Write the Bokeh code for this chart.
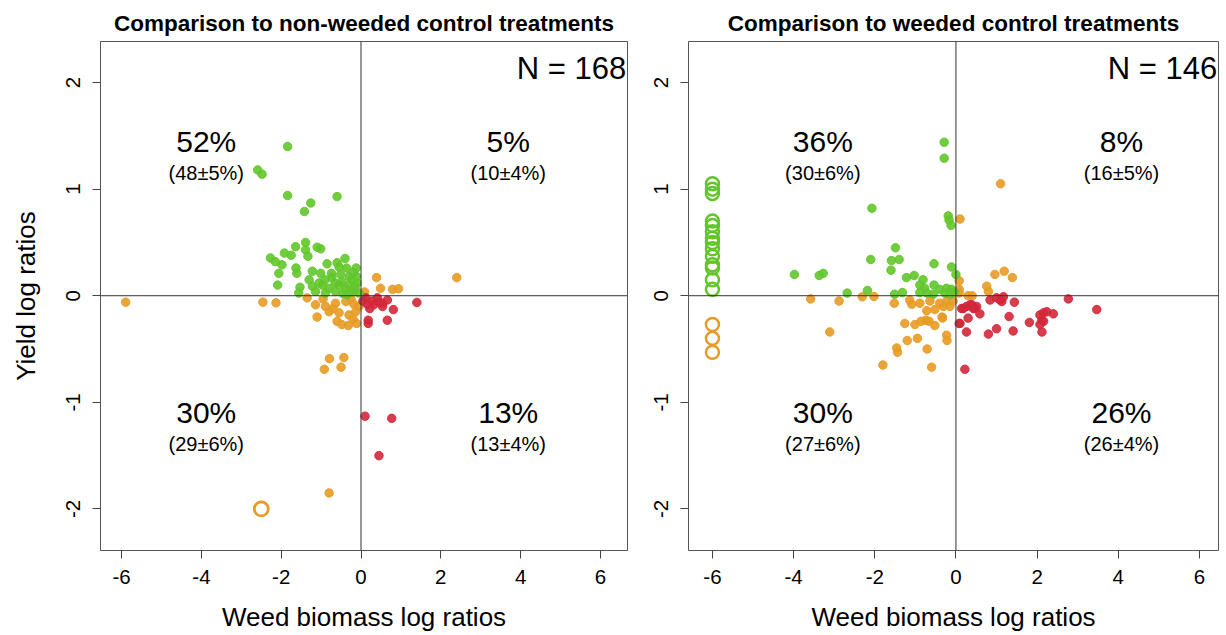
from bokeh.plotting import figure
from bokeh.layouts import row
from bokeh.models import FixedTicker, Span
from bokeh.embed import file_html
from bokeh.resources import INLINE

# ---------------- data: left panel (non-weeded controls) ----------------
L_green_x = [-1.84, -2.59, -2.48, -1.84, -0.60, -1.26, -1.42, -1.39, -1.39, -1.64, -1.10, -1.01,
             -1.92, -1.75, -2.27, -2.15, -1.98, -1.33, -1.63, -1.61, -2.06, -2.09, -1.22, -1.01,
             -0.60, -0.36, -0.12, -0.74, -0.51, -0.30, -0.11, -1.53, -1.56, -1.22, -0.97, -0.80,
             -0.55, -0.30, -0.09, -1.14, -0.89, -0.64, -0.38, -0.18, -0.05, -0.73, -0.48, -0.23,
             -0.90, -0.40, -0.25, -0.65, -0.45, -1.05, -0.15, -0.55, -0.20, -0.85, -1.30, -0.35]
L_green_y = [1.40, 1.18, 1.14, 0.94, 0.93, 0.87, 0.79, 0.50, 0.43, 0.46, 0.455, 0.44,
             0.40, 0.38, 0.355, 0.32, 0.29, 0.37, 0.26, 0.21, 0.21, 0.10, 0.23, 0.21,
             0.31, 0.26, 0.26, 0.21, 0.20, 0.18, 0.18, 0.08, 0.025, 0.09, 0.10, 0.07,
             0.10, 0.10, 0.12, 0.04, 0.025, 0.04, 0.06, 0.04, 0.025, 0.17, 0.13, 0.15,
             0.15, 0.35, 0.05, 0.12, 0.02, 0.12, 0.08, 0.27, 0.22, 0.30, 0.15, 0.01]
L_orange_x = [-5.90, -2.46, -2.13, 0.39, 0.49, 0.79, 0.94, 0.09, 2.40, -1.35, -1.14, -0.89,
              -0.64, -0.38, -0.18, -1.10, -0.80, -0.55, -0.30, -0.13, -0.60, -0.48, -0.32, -0.11,
              -0.79, -0.43, -0.92, -0.50, -0.80, -0.95, -0.25, -0.70, -0.05, -0.20]
L_orange_y = [-0.06, -0.06, -0.066, 0.17, 0.07, 0.06, 0.066, 0.035, 0.17, -0.02, -0.085, -0.10,
              -0.07, -0.054, -0.08, -0.20, -0.15, -0.16, -0.18, -0.15, -0.24, -0.27, -0.28, -0.26,
              -0.59, -0.58, -0.69, -0.67, -1.85, -0.03, -0.03, -0.12, -0.10, -0.22]
L_red_x = [0.12, 0.28, 0.41, 0.54, 0.66, 0.16, 0.32, 1.40, 0.81, 0.18, 0.18, 0.66, 0.54,
           0.10, 0.77, 0.45, 0.05, 0.22, 0.45]
L_red_y = [-0.02, -0.05, -0.02, -0.07, -0.04, -0.08, -0.085, -0.063, -0.13, -0.23, -0.26, -0.23, -0.10,
           -1.13, -1.15, -1.50, -0.05, -0.12, -0.06]
L_open_orange_x = [-2.5]
L_open_orange_y = [-2.0]

# ---------------- data: right panel (weeded controls) ----------------
R_green_x = [-0.29, -0.29, -2.07, -0.19, -0.17, -0.12, -1.49, -2.10, -1.59, -1.40, -1.60, -0.54,
             -0.11, 0.0, -3.98, -3.37, -3.27, -1.22, -1.03, -0.81, -0.89, -0.77, -0.54, -0.40,
             -0.23, -0.11, -2.68, -2.18, -1.51, -1.32, -0.89, -0.72, -0.56, -0.27, -0.15, -0.04]
R_green_y = [1.44, 1.29, 0.82, 0.75, 0.71, 0.66, 0.45, 0.34, 0.33, 0.34, 0.24, 0.30,
             0.27, 0.20, 0.20, 0.19, 0.21, 0.17, 0.19, 0.15, 0.10, 0.07, 0.10, 0.06,
             0.07, 0.06, 0.025, 0.05, 0.015, 0.03, 0.03, 0.025, 0.015, 0.025, 0.015, 0.035]
R_open_green_x = [-6.0] * 14
R_open_green_y = [1.05, 1.00, 0.96, 0.70, 0.66, 0.60, 0.54, 0.50, 0.44, 0.37, 0.29, 0.26, 0.15, 0.06]
R_open_orange_x = [-6.0, -6.0, -6.0]
R_open_orange_y = [-0.27, -0.40, -0.53]
R_orange_x = [1.10, 0.10, 0.96, 1.19, 1.39, 0.08, 0.76, 0.80, 0.08, 0.08, 0.30, 0.40,
              -3.58, -2.88, -2.31, -2.02, -3.11, -1.52, -1.14, -1.09, -0.89, -0.64, -0.40, -0.23,
              -0.07, -0.72, -0.52, -0.31, -0.15, -1.26, -1.01, -0.86, -0.74, -0.66, -0.52, -0.34,
              -0.95, -1.20, -1.46, -1.44, -0.71, -0.23, -0.22, -1.80, -0.60, -0.33]
R_orange_y = [1.05, 0.72, 0.20, 0.23, 0.17, 0.14, 0.09, 0.04, 0.06, 0.025, 0.0, 0.0,
              -0.03, -0.05, -0.01, -0.007, -0.34, -0.07, -0.04, -0.08, -0.07, -0.05, -0.07, -0.05,
              -0.05, -0.14, -0.13, -0.10, -0.10, -0.26, -0.27, -0.24, -0.23, -0.24, -0.28, -0.20,
              -0.40, -0.42, -0.49, -0.53, -0.50, -0.37, -0.42, -0.65, -0.67, -0.21]
R_red_x = [0.14, 0.26, 0.39, 0.47, 0.59, 0.30, 0.10, 0.26, 0.80, 1.00, 1.31, 1.41, 1.44, 1.13,
           0.84, 1.00, 1.81, 2.07, 2.16, 2.12, 2.24, 2.40, 0.22, 2.77, 3.47, 2.12, 2.07, 0.08,
           0.35, 0.43, 0.18, 1.09, 1.17, 0.51, 2.16]
R_red_y = [-0.12, -0.10, -0.085, -0.12, -0.17, -0.21, -0.26, -0.34, -0.36, -0.31, -0.195, -0.33, -0.06, -0.054,
           -0.04, -0.02, -0.25, -0.18, -0.24, -0.34, -0.15, -0.17, -0.69, -0.03, -0.13, -0.23, -0.27, -0.26,
           -0.085, -0.12, -0.12, -0.04, -0.01, -0.10, -0.16]

# ---------------- annotation texts ----------------
titles = ["Comparison to non-weeded control treatments", "Comparison to weeded control treatments"]
n_texts = ["N = 168", "N = 146"]
L_pct_big = ["52%", "5%", "30%", "13%"]
L_pct_small = ["(48\u00b15%)", "(10\u00b14%)", "(29\u00b16%)", "(13\u00b14%)"]
R_pct_big = ["36%", "8%", "30%", "26%"]
R_pct_small = ["(30\u00b16%)", "(16\u00b15%)", "(27\u00b16%)", "(26\u00b14%)"]
L_pct_x = [-3.88, 3.69, -3.88, 3.69]
R_pct_x = [-3.28, 4.08, -3.28, 4.08]
pct_big_y = [1.45, 1.45, -1.10, -1.10]
pct_small_y = [1.15, 1.15, -1.39, -1.39]
x_ticks = [-6, -4, -2, 0, 2, 4, 6]
y_ticks = [-2, -1, 0, 1, 2]

GREEN = "#62C62A"
ORANGE = "#E89B25"
RED = "#D3283A"
FONT = "Liberation Sans"


def make_panel(title, width, xr, border_left, border_right, show_ylabel):
    p = figure(width=width, height=634, x_range=xr, y_range=(-2.39, 2.385),
               output_backend="svg", toolbar_location=None,
               min_border_left=border_left, min_border_right=border_right,
               min_border_top=41, min_border_bottom=84)
    p.title.text = title
    p.title.text_font = FONT
    p.title.text_font_style = "bold"
    p.title.text_font_size = "22.5px"
    p.title.text_color = "black"
    p.title.align = "center"
    p.title.standoff = 12
    p.grid.visible = False
    p.outline_line_color = "#555555"
    p.outline_line_width = 1
    p.background_fill_color = "white"
    p.border_fill_color = "white"
    for ax, ticks in ((p.xaxis[0], x_ticks), (p.yaxis[0], y_ticks)):
        ax.ticker = FixedTicker(ticks=ticks)
        ax.major_label_overrides = {t: str(t) for t in ticks}
        ax.axis_line_color = None
        ax.major_tick_line_color = "#444444"
        ax.major_tick_out = 8
        ax.major_tick_in = 0
        ax.minor_tick_line_color = None
        ax.major_label_text_font = FONT
        ax.major_label_text_font_size = "20.5px"
        ax.major_label_text_color = "black"
        ax.axis_label_text_font = FONT
        ax.axis_label_text_font_size = "26px"
        ax.axis_label_text_font_style = "normal"
        ax.axis_label_text_color = "black"
    p.xaxis.major_label_standoff = 11
    p.xaxis.axis_label = "Weed biomass log ratios"
    p.xaxis.axis_label_standoff = 15
    p.yaxis.major_label_orientation = "vertical"
    p.yaxis.major_label_standoff = 12
    if show_ylabel:
        p.yaxis.axis_label = "Yield log ratios"
        p.yaxis.axis_label_standoff = 23
    return p


def add_points(p, gx, gy, ox, oy, rx, ry):
    p.scatter(ox, oy, size=8.5, fill_color=ORANGE, line_color=ORANGE, fill_alpha=0.9, line_alpha=0.9)
    p.scatter(rx, ry, size=8.5, fill_color=RED, line_color=RED, fill_alpha=0.9, line_alpha=0.9)
    p.scatter(gx, gy, size=8.5, fill_color=GREEN, line_color=GREEN, fill_alpha=0.9, line_alpha=0.9)


def add_texts(p, n_text, big, small, xs, xmax):
    p.add_layout(Span(location=0, dimension="height", line_color="#333333", line_width=1))
    p.add_layout(Span(location=0, dimension="width", line_color="#333333", line_width=1))
    p.text(x=[xmax - 0.03], y=[2.13], text=[n_text], text_font={"value": FONT}, text_font_size="31px",
           text_align="right", text_baseline="middle", text_color="black")
    p.text(x=xs, y=pct_big_y, text=big, text_font={"value": FONT}, text_font_size="30px",
           text_align="center", text_baseline="middle", text_color="black")
    p.text(x=xs, y=pct_small_y, text=small, text_font={"value": FONT}, text_font_size="20px",
           text_align="center", text_baseline="middle", text_color="black")


L_xr = (-6.53, 6.68)
R_xr = (-6.59, 6.47)

p1 = make_panel(titles[0], 644, L_xr, 100, 17, True)
add_points(p1, L_green_x, L_green_y, L_orange_x, L_orange_y, L_red_x, L_red_y)
p1.scatter(L_open_orange_x, L_open_orange_y, size=14, fill_color=None, line_color=ORANGE, line_width=2.8)
add_texts(p1, n_texts[0], L_pct_big, L_pct_small, L_pct_x, L_xr[1])

p2 = make_panel(titles[1], 580, R_xr, 44, 6, False)
add_points(p2, R_green_x, R_green_y, R_orange_x, R_orange_y, R_red_x, R_red_y)
p2.scatter(R_open_green_x, R_open_green_y, size=13, fill_color=None, line_color=GREEN, line_width=2.5)
p2.scatter(R_open_orange_x, R_open_orange_y, size=13, fill_color=None, line_color=ORANGE, line_width=2.5)
add_texts(p2, n_texts[1], R_pct_big, R_pct_small, R_pct_x, R_xr[1])

layout = row(p1, p2)
open("out.html", "w").write(file_html(layout, INLINE))
